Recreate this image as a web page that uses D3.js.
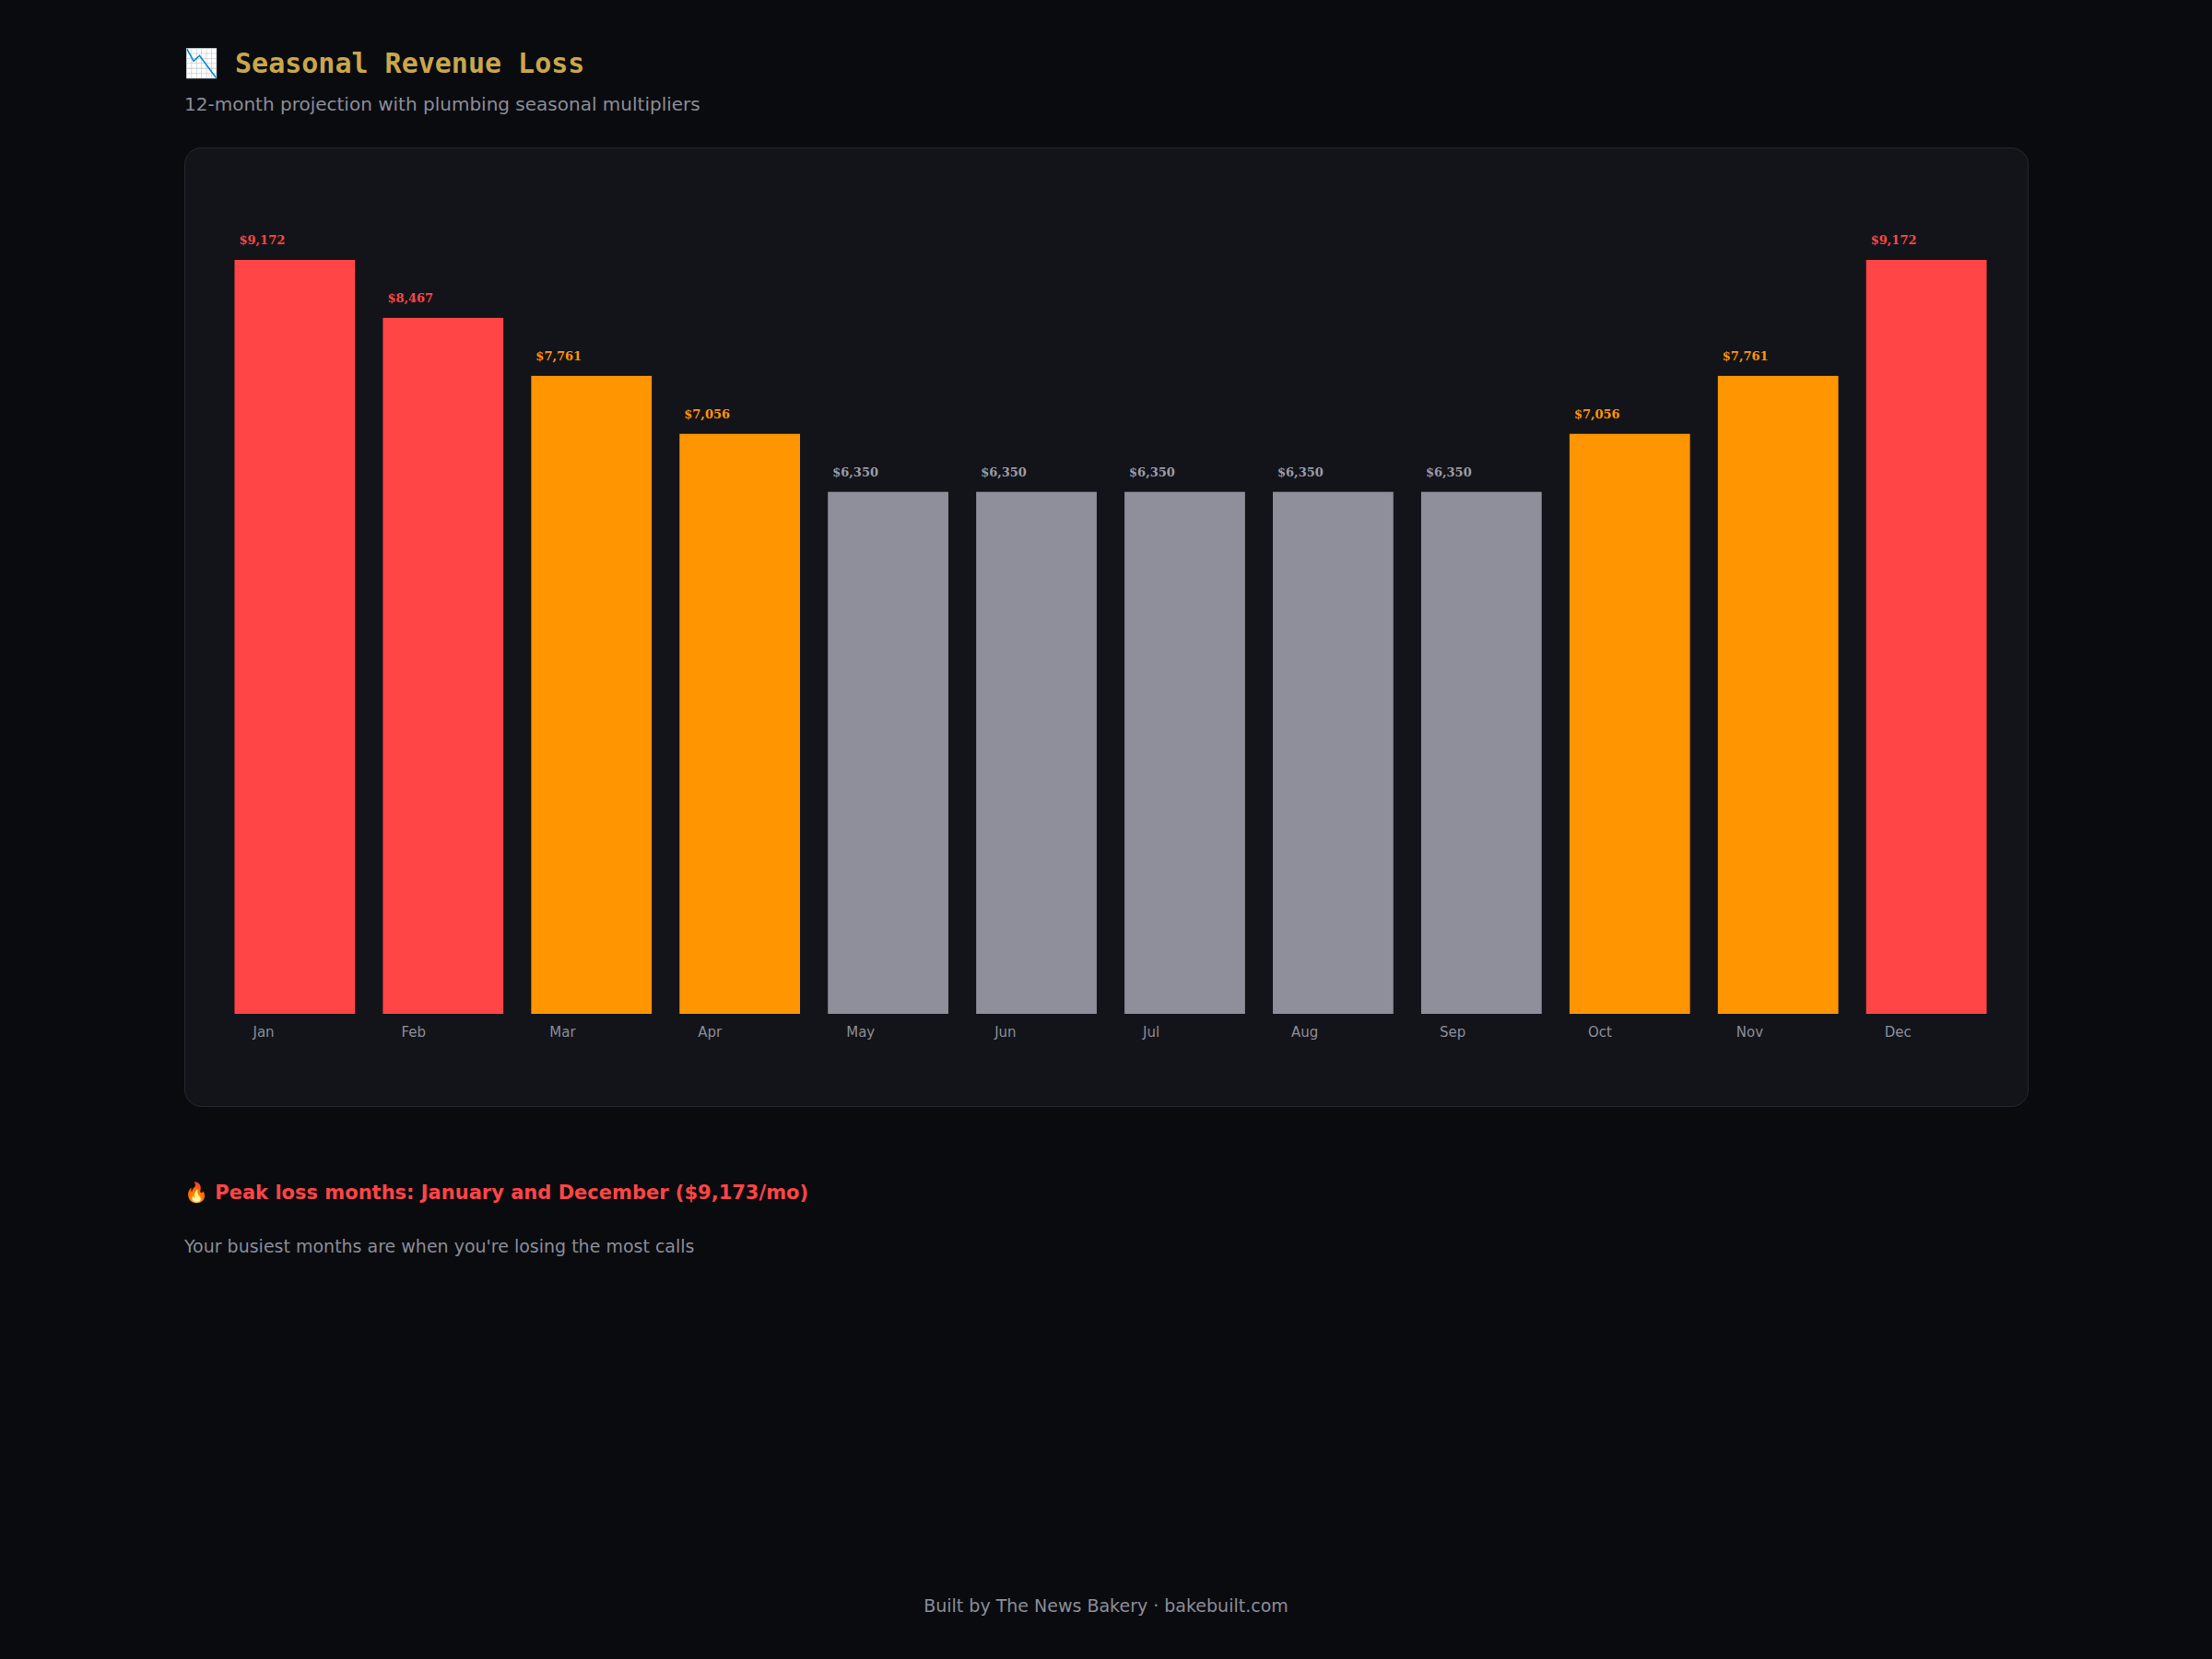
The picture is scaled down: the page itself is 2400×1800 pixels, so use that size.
<!DOCTYPE html>
<html><head><meta charset="utf-8">
<script src="https://cdn.jsdelivr.net/npm/d3@7"></script>
<style>body{margin:0;background:#0a0b0f;}</style></head>
<body><svg id="c" width="2400" height="1800"></svg>
<script>
const months=["Jan","Feb","Mar","Apr","May","Jun","Jul","Aug","Sep","Oct","Nov","Dec"];
const values=[9172,8467,7761,7056,6350,6350,6350,6350,6350,7056,7761,9172];
const tiers=["high","high","mid","mid","low","low","low","low","low","mid","mid","high"];
const tierColor={high:"#ff4545",mid:"#ff9500",low:"#8e8f9b"};
const labelColor={high:"#ff4545",mid:"#ff9500",low:"#9a9ba5"};

const svg=d3.select("#c");
svg.append("rect").attr("width",2400).attr("height",1800).attr("fill","#0a0b0f");
const sans="'DejaVu Sans', sans-serif";
svg.append("text").attr("x",200).attr("y",79).attr("fill","#c9a74a")
  .attr("font-family","'DejaVu Sans Mono', monospace").attr("font-weight","bold").attr("font-size",30)
  .text("📉 Seasonal Revenue Loss");
svg.append("text").attr("x",200).attr("y",120).attr("fill","#8b8d98")
  .attr("font-family",sans).attr("font-size",20).text("12-month projection with plumbing seasonal multipliers");
svg.append("rect").attr("x",200.5).attr("y",160.5).attr("width",2000).attr("height",1040).attr("rx",18)
  .attr("fill","#13141a").attr("stroke","#262830");

const x=d3.scaleBand().domain(months).range([240,2170]).paddingInner(0.1875).paddingOuter(0.09);
const y=d3.scaleLinear().domain([0,9172]).range([1100,282]);
const g=svg.append("g");
g.selectAll("rect.bar").data(months).join("rect").attr("class","bar")
  .attr("x",d=>x(d)).attr("width",x.bandwidth())
  .attr("y",(d,i)=>y(values[i])).attr("height",(d,i)=>y(0)-y(values[i]))
  .attr("fill",(d,i)=>tierColor[tiers[i]]);
g.selectAll("text.val").data(months).join("text").attr("class","val")
  .attr("x",d=>x(d)+5).attr("y",(d,i)=>y(values[i])-17)
  .attr("fill",(d,i)=>labelColor[tiers[i]]).attr("font-family","'DejaVu Serif', serif")
  .attr("font-weight","bold").attr("font-size",13)
  .text((d,i)=>"$"+d3.format(",")(values[i]));
g.selectAll("text.mon").data(months).join("text").attr("class","mon")
  .attr("x",d=>x(d)+20).attr("y",1125).attr("fill","#8b8d98")
  .attr("font-family",sans).attr("font-size",15).text(d=>d);

svg.append("text").attr("x",200).attr("y",1301).attr("fill","#ff4545").attr("font-family",sans)
  .attr("font-weight","bold").attr("font-size",21).text("🔥 Peak loss months: January and December ($9,173/mo)");
svg.append("text").attr("x",200).attr("y",1359).attr("fill","#8b8d98").attr("font-family",sans)
  .attr("font-size",19).text("Your busiest months are when you're losing the most calls");
svg.append("text").attr("x",1200).attr("y",1749).attr("text-anchor","middle").attr("fill","#8b8d98")
  .attr("font-family",sans).attr("font-size",19).text("Built by The News Bakery · bakebuilt.com");
</script></body></html>
